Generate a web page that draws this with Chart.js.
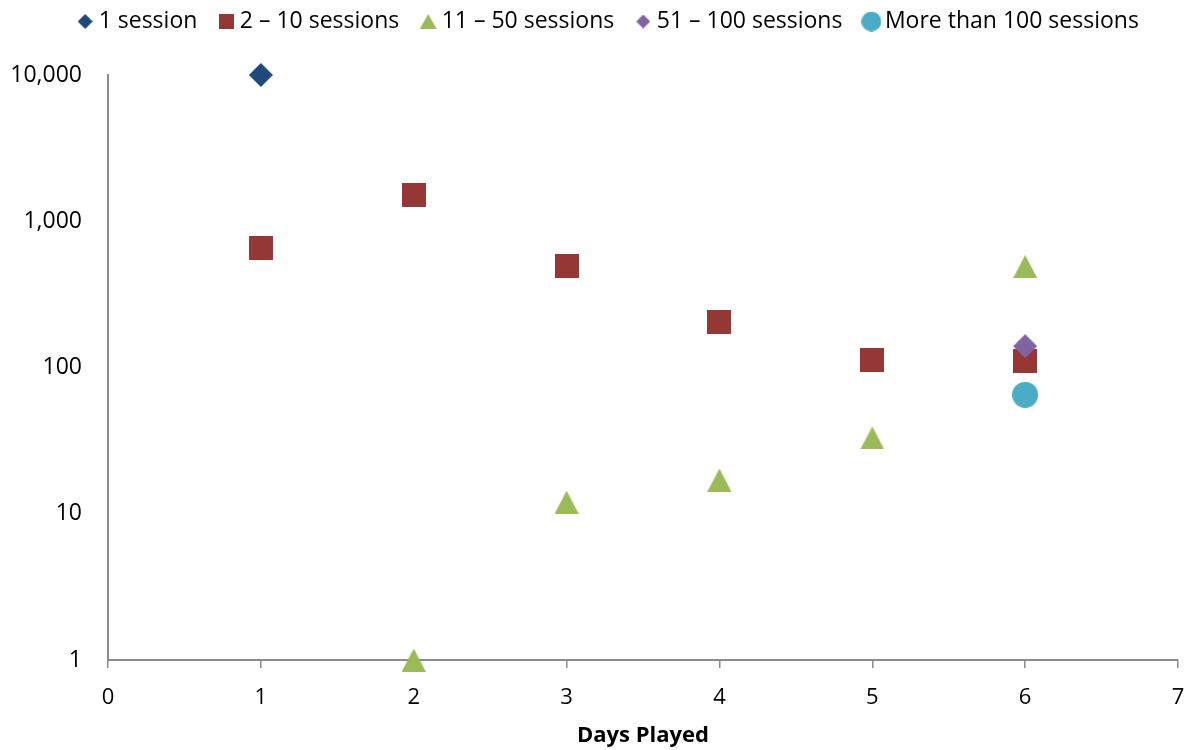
<!DOCTYPE html>
<html>
<head>
<meta charset="utf-8">
<script src="https://cdn.jsdelivr.net/npm/chart.js@4/dist/chart.umd.min.js"></script>
<style>
  html, body { margin: 0; padding: 0; background: #ffffff; }
  canvas { display: block; }
</style>
</head>
<body>
<canvas id="chart" width="1191" height="750"></canvas>
<script>
// Players by number of days played, split by how many sessions they played
const seriesNames = ['1 session', '2 – 10 sessions', '11 – 50 sessions', '51 – 100 sessions', 'More than 100 sessions'];

const oneSessionDays = [1];
const oneSessionPlayers = [10000];

const twoToTenDays = [1, 2, 3, 4, 5, 6];
const twoToTenPlayers = [655, 1506, 493, 205, 112, 111];

const elevenToFiftyDays = [2, 3, 4, 5, 6];
const elevenToFiftyPlayers = [1, 12, 17, 33, 490];

const fiftyOneToHundredDays = [6];
const fiftyOneToHundredPlayers = [140];

const overHundredDays = [6];
const overHundredPlayers = [65];

const xTicks = [0, 1, 2, 3, 4, 5, 6, 7];
const yTicks = [1, 10, 100, 1000, 10000];

const xTitle = 'Days Played';

// Marker look per series
const colors = ['#1F497D', '#953735', '#9BBB59', '#8064A2', '#4BACC6'];
const AXIS_COLOR = '#8c8c8c';
const FONT = '"Open Sans"';
const LEGEND_SHIFT = 18;   // legend row sits a little right of the canvas centre

// Small canvas glyphs used as point styles
function makeIcon(shape, w, h, color) {
  const c = document.createElement('canvas');
  c.width = w; c.height = h;
  const g = c.getContext('2d');
  g.fillStyle = color;
  g.beginPath();
  if (shape === 'diamond') {
    g.moveTo(w / 2, 0); g.lineTo(w, h / 2); g.lineTo(w / 2, h); g.lineTo(0, h / 2);
  } else if (shape === 'square') {
    g.rect(0, 0, w, h);
  } else if (shape === 'triangle') {
    g.moveTo(w / 2, 0); g.lineTo(w, h); g.lineTo(0, h);
  } else {
    g.arc(w / 2, h / 2, Math.min(w, h) / 2, 0, Math.PI * 2);
  }
  g.closePath();
  g.fill();
  return c;
}

const pointIcons = [
  makeIcon('diamond', 24, 24, colors[0]),
  makeIcon('square', 24, 24, colors[1]),
  makeIcon('triangle', 24, 23, colors[2]),
  makeIcon('diamond', 24, 24, colors[3]),
  makeIcon('circle', 26, 26, colors[4])
];
const legendIcons = [
  makeIcon('diamond', 15, 15, colors[0]),
  makeIcon('square', 15, 15, colors[1]),
  makeIcon('triangle', 17, 15, colors[2]),
  makeIcon('diamond', 14, 14, colors[3]),
  makeIcon('circle', 20, 20, colors[4])
];

function points(xs, ys) {
  return xs.map((x, i) => ({ x: x, y: ys[i] }));
}

const seriesData = [
  points(oneSessionDays, oneSessionPlayers),
  points(twoToTenDays, twoToTenPlayers),
  points(elevenToFiftyDays, elevenToFiftyPlayers),
  points(fiftyOneToHundredDays, fiftyOneToHundredPlayers),
  points(overHundredDays, overHundredPlayers)
];

const datasets = seriesData.map((data, i) => ({
  label: seriesNames[i],
  data: data,
  backgroundColor: colors[i],
  borderColor: colors[i],
  pointStyle: pointIcons[i],
  pointRadius: 13,
  borderWidth: 0,
  showLine: false,
  clip: false,
  order: seriesData.length - i   // later series sit on top
}));

// Fixed legend band height above the plot, with the row nudged right
const legendBand = {
  id: 'legendBand',
  beforeUpdate(chart) {
    const lg = chart.legend;
    if (lg && !lg._bandFit) {
      const fit = lg.fit;
      lg.fit = function () { fit.call(this); this.height = 92; };
      const draw = lg.draw;
      lg.draw = function () {
        this.left += LEGEND_SHIFT; this.right += LEGEND_SHIFT;
        draw.call(this);
        this.left -= LEGEND_SHIFT; this.right -= LEGEND_SHIFT;
      };
      lg._bandFit = true;
    }
  }
};

new Chart(document.getElementById('chart'), {
  type: 'scatter',
  data: { datasets: datasets },
  plugins: [legendBand],
  options: {
    responsive: false,
    animation: false,
    events: [],
    layout: { padding: { top: -17, left: 0, right: 5, bottom: 0 } },
    plugins: {
      tooltip: { enabled: false },
      legend: {
        display: true,
        position: 'top',
        labels: {
          usePointStyle: true,
          boxWidth: 4,
          boxHeight: 4,
          padding: 27,
          color: '#000000',
          font: { family: FONT, size: 23 },
          generateLabels(chart) {
            return chart.data.datasets.map((ds, i) => ({
              text: ds.label,
              pointStyle: legendIcons[i],
              fillStyle: ds.backgroundColor,
              strokeStyle: ds.backgroundColor,
              lineWidth: 0,
              hidden: false,
              datasetIndex: i,
              fontColor: '#000000'
            }));
          }
        }
      }
    },
    scales: {
      x: {
        type: 'linear',
        min: 0,
        max: 7,
        afterBuildTicks(scale) { scale.ticks = xTicks.map(v => ({ value: v })); },
        afterFit(scale) {
          scale.height = 90;
          scale.paddingLeft = 0;
          scale.paddingRight = 0;
        },
        ticks: {
          color: '#000000',
          font: { family: FONT, size: 22 },
          padding: 17,
          maxRotation: 0
        },
        grid: {
          display: true,
          drawOnChartArea: false,
          drawTicks: true,
          tickLength: 8,
          color: AXIS_COLOR,
          lineWidth: 1.5
        },
        border: { display: true, color: AXIS_COLOR, width: 2 },
        title: {
          display: true,
          text: xTitle,
          color: '#000000',
          font: { family: FONT, size: 22, weight: 'bold' },
          padding: { top: 4, bottom: 1 }
        }
      },
      y: {
        type: 'logarithmic',
        min: 1,
        max: 10000,
        afterBuildTicks(scale) { scale.ticks = yTicks.map(v => ({ value: v })); },
        afterFit(scale) {
          scale.width = 108;
          scale.paddingTop = 0;
          scale.paddingBottom = 0;
        },
        ticks: {
          color: '#000000',
          font: { family: FONT, size: 23 },
          padding: 26,
          callback: v => Number(v).toLocaleString('en-US')
        },
        grid: {
          display: true,
          drawOnChartArea: false,
          drawTicks: false,
          color: AXIS_COLOR
        },
        border: { display: true, color: AXIS_COLOR, width: 2 }
      }
    }
  }
});
</script>
</body>
</html>
